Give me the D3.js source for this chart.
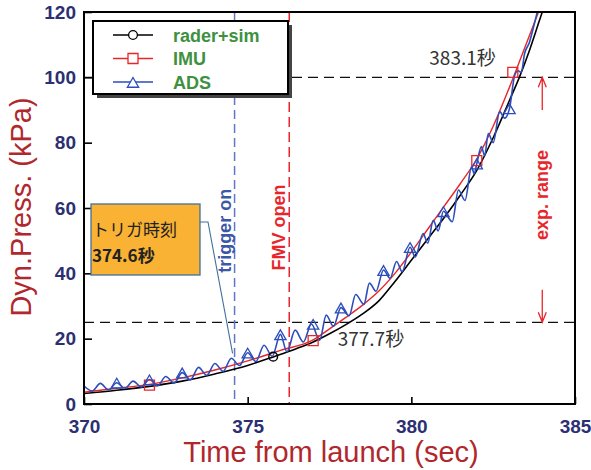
<!DOCTYPE html>
<html>
<head>
<meta charset="utf-8">
<script src="https://cdn.jsdelivr.net/npm/d3@7/dist/d3.min.js"></script>
<style>
  body { margin: 0; background: #fff; }
  text { font-family: "Liberation Sans", Arial, sans-serif; }
</style>
</head>
<body>
<script>
// ticks
const xTicks = [370, 375, 380, 385];
const yTicks = [0, 20, 40, 60, 80, 100, 120];

// rader+sim (black)
const raderTime = [370, 371, 372, 373, 374, 375, 375.8, 376.5, 377, 377.5, 378, 378.5, 379, 379.5, 380, 380.5, 381, 381.5, 382, 382.5, 383, 383.3, 383.6, 383.9, 384.2];
const raderVal  = [3.2, 4.2, 5.4, 7.0, 9.2, 11.8, 14.5, 17.0, 19.0, 21.5, 24.3, 27.5, 31.5, 37.5, 44.0, 50.5, 57.0, 64.0, 71.5, 81.5, 93.0, 100, 108, 117, 126];
const raderMarkTime = [375.78];
const raderMarkVal  = [14.5];

// IMU (red)
const imuTime = [370, 371, 372, 373, 374, 375, 376, 377, 377.5, 378, 378.5, 379, 379.5, 380, 380.5, 381, 381.5, 382, 382.5, 383, 383.5, 384];
const imuVal  = [3.6, 4.8, 6.0, 8.0, 10.4, 13.2, 16.4, 19.6, 23.0, 26.5, 30.2, 34.5, 40.0, 46.5, 53.5, 60.5, 67.5, 75.0, 85.0, 97.0, 110, 123];
const imuMarkTime = [372, 377, 382, 383.1];
const imuMarkVal  = [5.8, 19.4, 74.5, 101.5];

// ADS (blue)
const adsTime = [370.00, 370.25, 370.50, 370.75, 371.00, 371.25, 371.50, 371.75, 372.00, 372.25, 372.50, 372.75,
  373.00, 373.25, 373.50, 373.75, 374.00, 374.25, 374.50, 374.75, 375.00, 375.25, 375.50, 375.75,
  376.00, 376.20, 376.45, 376.70, 376.95, 377.20, 377.40, 377.62, 377.85, 378.10, 378.30, 378.55,
  378.72, 378.92, 379.15, 379.35, 379.55, 379.72, 379.96, 380.12, 380.36, 380.50, 380.67, 380.82,
  380.98, 381.25, 381.44, 381.64, 381.84, 381.92, 382.00, 382.14, 382.24, 382.35, 382.50, 382.70,
  382.85, 383.00, 383.16, 383.26, 383.36, 383.46, 383.60, 383.71, 383.86];
const adsVal = [5.5, 4.0, 6.3, 4.3, 6.5, 4.8, 7.0, 5.2, 7.5, 5.6, 8.4, 6.4,
  9.6, 7.4, 11.2, 8.8, 12.4, 10.0, 14.0, 11.8, 15.7, 13.0, 18.0, 14.6,
  21.3, 16.0, 22.6, 19.0, 24.5, 19.5, 27.2, 23.8, 29.5, 27.0, 33.5, 30.5,
  37.0, 34.5, 41.0, 38.5, 43.6, 40.5, 48.0, 45.0, 52.2, 49.2, 56.2, 53.0,
  59.0, 55.8, 65.5, 62.3, 72.6, 70.5, 73.6, 78.8, 76.0, 82.8, 80.0, 89.5,
  87.5, 90.5, 100.7, 102.0, 101.5, 107.3, 110.5, 114.5, 120.5];
const adsMarkTime = [371, 372, 373, 375, 376, 377, 377.85, 379.15, 379.96, 380.98, 382.00, 383.00];
const adsMarkVal  = [6.5, 7.5, 9.6, 15.7, 21.3, 24.5, 29.5, 41.0, 48.0, 59.0, 73.6, 90.5];

// events
const triggerTime = 374.6;
const fmvTime = 376.27;
const refLevels = [25, 100];

const margin = { top: 12, right: 16, bottom: 66, left: 84 };
const width = 591 - margin.left - margin.right;
const height = 470 - margin.top - margin.bottom;

const navy = '#2c2f72';
const titleRed = '#b0282d';
const red = '#e8262a';
const blue = '#2c4dbb';
const green = '#3d9140';

const svg = d3.select('body').append('svg')
  .attr('width', 591)
  .attr('height', 470)
  .style('background', '#fff');

const g = svg.append('g')
  .attr('transform', `translate(${margin.left},${margin.top})`);

const x = d3.scaleLinear().domain([370, 385]).range([0, width]);
const y = d3.scaleLinear().domain([0, 120]).range([height, 0]);

g.append('clipPath').attr('id', 'plot')
  .append('rect').attr('width', width).attr('height', height);

// reference lines
g.selectAll('.ref')
  .data(refLevels)
  .enter().append('line')
  .attr('x1', 0).attr('x2', width)
  .attr('y1', d => y(d)).attr('y2', d => y(d))
  .style('stroke', '#111').style('stroke-width', 1.3)
  .style('stroke-dasharray', '10,6');

g.append('line')
  .attr('x1', x(triggerTime)).attr('x2', x(triggerTime))
  .attr('y1', 0).attr('y2', height)
  .style('stroke', '#6475c8').style('stroke-width', 1.5)
  .style('stroke-dasharray', '9,5');

g.append('line')
  .attr('x1', x(fmvTime)).attr('x2', x(fmvTime))
  .attr('y1', 0).attr('y2', height)
  .style('stroke', red).style('stroke-width', 1.5)
  .style('stroke-dasharray', '10,5');

// curves
const line = d3.line()
  .x(d => x(d[0]))
  .y(d => y(d[1]))
  .curve(d3.curveMonotoneX);

const plot = g.append('g').attr('clip-path', 'url(#plot)');

plot.append('path')
  .datum(d3.zip(raderTime, raderVal))
  .attr('d', line)
  .style('fill', 'none').style('stroke', '#000').style('stroke-width', 1.6);

plot.append('path')
  .datum(d3.zip(imuTime, imuVal))
  .attr('d', line)
  .style('fill', 'none').style('stroke', red).style('stroke-width', 1.4);

plot.append('path')
  .datum(d3.zip(adsTime, adsVal))
  .attr('d', line)
  .style('fill', 'none').style('stroke', blue).style('stroke-width', 1.6);

// markers
const tri = d3.symbol().type(d3.symbolTriangle).size(55);
const sq = d3.symbol().type(d3.symbolSquare).size(100);
const circ = d3.symbol().type(d3.symbolCircle).size(60);

plot.selectAll('.mc')
  .data(d3.zip(raderMarkTime, raderMarkVal))
  .enter().append('path')
  .attr('d', circ)
  .attr('transform', d => `translate(${x(d[0])},${y(d[1])})`)
  .style('fill', 'none').style('stroke', '#000').style('stroke-width', 1.4);

plot.selectAll('.ms')
  .data(d3.zip(imuMarkTime, imuMarkVal))
  .enter().append('path')
  .attr('d', sq)
  .attr('transform', d => `translate(${x(d[0])},${y(d[1])})`)
  .style('fill', 'none').style('stroke', red).style('stroke-width', 1.3);

plot.selectAll('.mt')
  .data(d3.zip(adsMarkTime, adsMarkVal))
  .enter().append('path')
  .attr('d', tri)
  .attr('transform', d => `translate(${x(d[0])},${y(d[1]) + 2})`)
  .style('fill', 'none').style('stroke', blue).style('stroke-width', 1.3);

// axes
const xAxis = d3.axisBottom(x).tickValues(xTicks).tickSize(-7).tickPadding(16);
const yAxis = d3.axisLeft(y).tickValues(yTicks).tickSize(-8).tickPadding(8);

const gx = g.append('g').attr('transform', `translate(0,${height})`).call(xAxis);
const gy = g.append('g').call(yAxis);

[gx, gy].forEach(a => {
  a.select('.domain').remove();
  a.selectAll('line').style('stroke', '#000').style('stroke-width', 1.6);
  a.selectAll('text')
    .style('font-family', '"Liberation Sans", Arial, sans-serif')
    .style('font-weight', 'bold')
    .style('font-size', '19px')
    .style('fill', navy);
});

g.append('rect')
  .attr('width', width).attr('height', height)
  .style('fill', 'none').style('stroke', '#000').style('stroke-width', 2);

// axis titles
svg.append('text')
  .attr('x', 331).attr('y', 462)
  .attr('text-anchor', 'middle')
  .style('font-size', '29px').style('fill', titleRed)
  .text('Time from launch (sec)');

svg.append('text')
  .attr('transform', 'translate(31,207) rotate(-90)')
  .attr('text-anchor', 'middle')
  .style('font-size', '29px').style('fill', titleRed)
  .text('Dyn.Press. (kPa)');

// rotated labels
g.append('text')
  .attr('transform', `translate(${x(triggerTime) - 4},${y(53)}) rotate(-90)`)
  .attr('text-anchor', 'middle')
  .style('font-size', '18px').style('font-weight', 'bold').style('fill', '#3c56a8')
  .text('trigger on');

g.append('text')
  .attr('transform', `translate(${x(fmvTime) - 4},${y(54)}) rotate(-90)`)
  .attr('text-anchor', 'middle')
  .style('font-size', '18px').style('font-weight', 'bold').style('fill', red)
  .text('FMV open');

g.append('text')
  .attr('transform', `translate(${x(384) + 6},${y(64)}) rotate(-90)`)
  .attr('text-anchor', 'middle')
  .style('font-size', '18px').style('font-weight', 'bold').style('fill', red)
  .text('exp. range');

// exp. range arrows
function arrow(v0, v1) {
  const ax = x(384);
  const y0 = y(v0), y1 = y(v1);
  const dir = y1 < y0 ? 1 : -1;
  g.append('path')
    .attr('d', `M${ax},${y0}L${ax},${y1}M${ax - 4},${y1 + dir * 10}L${ax},${y1}L${ax + 4},${y1 + dir * 10}`)
    .style('fill', 'none').style('stroke', red).style('stroke-width', 1.3);
}
arrow(90, 100);
arrow(35, 25);

// time labels
g.append('text')
  .attr('x', x(380.55)).attr('y', y(100) - 12)
  .style('font-family', '"Noto Sans CJK JP", sans-serif')
  .style('font-size', '19px').style('fill', '#333')
  .text('383.1秒');

g.append('text')
  .attr('x', x(377.75)).attr('y', y(25) + 24)
  .style('font-family', '"Noto Sans CJK JP", sans-serif')
  .style('font-size', '19px').style('fill', '#333')
  .text('377.7秒');

// callout box
const bx = 7, by = 192, bw = 109, bh = 71;
g.append('path')
  .attr('d', `M${bx + bw},${by + 18}L${bx + bw + 8},${by + 18}L${x(triggerTime) - 2},${y(15.5)}`)
  .style('fill', 'none').style('stroke', '#41719c').style('stroke-width', 1.1);

g.append('rect')
  .attr('x', bx).attr('y', by).attr('width', bw).attr('height', bh)
  .style('fill', '#f9b233').style('stroke', '#41719c').style('stroke-width', 1.3);

g.append('text')
  .attr('x', bx + 1).attr('y', by + 32)
  .style('font-family', '"Noto Sans CJK JP", sans-serif')
  .style('font-size', '17px').style('fill', '#222')
  .text('トリガ時刻');

g.append('text')
  .attr('x', bx + 1).attr('y', by + 58)
  .style('font-family', '"Noto Sans CJK JP", sans-serif')
  .style('font-size', '17px').style('font-weight', 'bold').style('fill', '#222')
  .text('374.6秒');

// legend
const legendItems = ['rader+sim', 'IMU', 'ADS'];
const legendColors = ['#000', red, blue];
const legendSymbols = [circ, sq, tri];

const lg = g.append('g').attr('transform', 'translate(9,9)');
lg.append('rect')
  .attr('x', 4).attr('y', 4).attr('width', 195).attr('height', 73)
  .style('fill', '#444');
lg.append('rect')
  .attr('width', 195).attr('height', 73)
  .style('fill', '#fff').style('stroke', '#000').style('stroke-width', 2);

const rows = lg.selectAll('.row')
  .data(legendItems)
  .enter().append('g')
  .attr('transform', (d, i) => `translate(0,${14 + i * 23.5})`);

rows.append('line')
  .attr('x1', 20).attr('x2', 60)
  .style('stroke', (d, i) => legendColors[i]).style('stroke-width', 1.3);

rows.append('path')
  .attr('d', (d, i) => legendSymbols[i]())
  .attr('transform', (d, i) => `translate(40,${i === 2 ? 2 : 0})`)
  .style('fill', '#fff')
  .style('stroke', (d, i) => legendColors[i]).style('stroke-width', 1.3);

rows.append('text')
  .attr('x', 80).attr('y', 6.5)
  .style('font-size', '18px').style('font-weight', 'bold').style('fill', green)
  .text(d => d);
</script>
</body>
</html>
